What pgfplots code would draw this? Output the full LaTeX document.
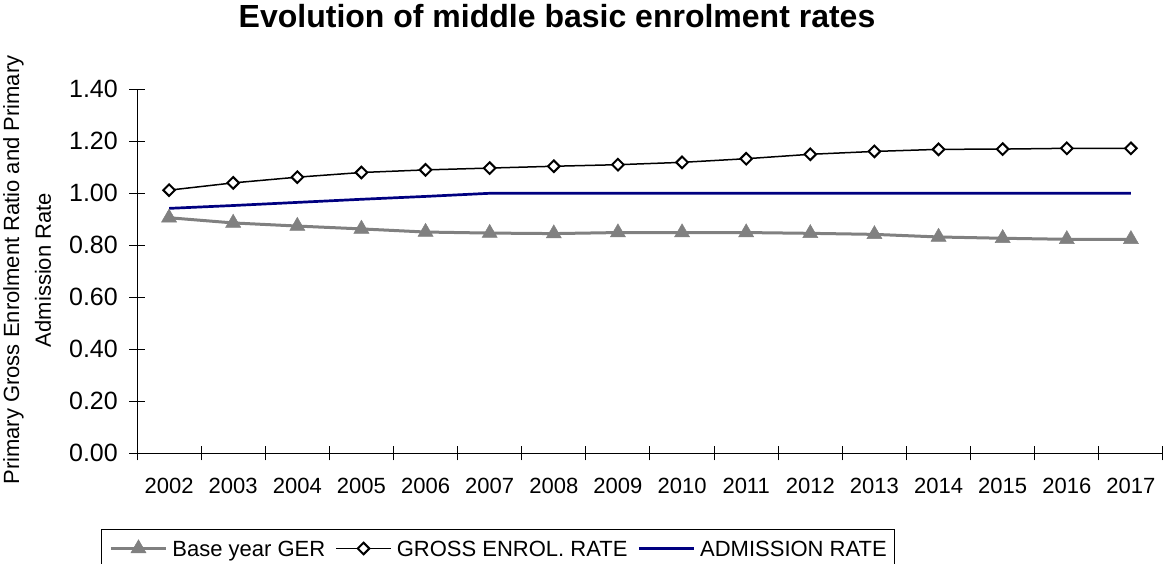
\documentclass[border=0pt]{standalone}
\usepackage{pgfplots}
\pgfplotsset{compat=1.18}
\usepackage{fontspec}
\setmainfont{Liberation Sans}

\definecolor{gerGray}{RGB}{128,128,128}
\definecolor{admNavy}{RGB}{0,0,128}
\newcommand{\lbl}{\fontsize{22}{26}\selectfont}
\newcommand{\ylbl}{\fontsize{25}{30}\selectfont}

% year index: 0 = 2002 ... 15 = 2017
\pgfplotstableread{
idx base gross adm
0  0.906 1.012 0.942
1  0.886 1.040 0.953
2  0.874 1.062 0.965
3  0.863 1.080 0.977
4  0.851 1.090 0.988
5  0.847 1.097 1.000
6  0.845 1.104 1.000
7  0.849 1.110 1.000
8  0.849 1.119 1.000
9  0.849 1.133 1.000
10 0.846 1.150 1.000
11 0.842 1.161 1.000
12 0.832 1.169 1.000
13 0.827 1.170 1.000
14 0.823 1.173 1.000
15 0.823 1.173 1.000
}\rates

\begin{document}
\begin{tikzpicture}[x=1pt,y=1pt]
\useasboundingbox (0,0) rectangle (1167,564);

\node[anchor=base, font=\fontsize{32}{38}\selectfont\bfseries]
  at (557,536) {Evolution of middle basic enrolment rates};

\begin{scope}
  \clip (0,0) rectangle (120,509);
  \node[rotate=90, inner sep=0pt, text height=15.8pt, text depth=0pt, font=\lbl]
    at (11.2,294) {Primary Gross Enrolment Ratio and Primary};
  \node[rotate=90, inner sep=0pt, text height=15.8pt, text depth=0pt, font=\lbl]
    at (43,294) {Admission Rate};
\end{scope}

\begin{axis}[
  at={(137pt,110.7pt)}, anchor=south west,
  scale only axis, width=1026pt, height=364pt,
  xmin=-0.5, xmax=15.5, ymin=0, ymax=1.4,
  axis x line*=bottom, axis y line*=left,
  axis line style={-, black, line width=1pt},
  x axis line style={-}, y axis line style={-},
  tick align=center,
  major tick length=16pt, minor tick length=14pt,
  xtick={0,...,15},
  xticklabels={2002,2003,2004,2005,2006,2007,2008,2009,2010,2011,2012,2013,2014,2015,2016,2017},
  minor xtick={-0.5,0.5,...,15.5},
  every major x tick/.append style={draw=none},
  every minor x tick/.append style={black, line width=1pt},
  every major y tick/.append style={black, line width=1pt},
  ytick={0,0.2,0.4,0.6,0.8,1.0,1.2,1.4},
  yticklabel style={font=\ylbl, inner sep=0pt, xshift=-11pt,
    /pgf/number format/.cd, fixed, fixed zerofill, precision=2, assume math mode=true},
  xticklabel style={font=\lbl, inner sep=0pt, yshift=-17pt},
  clip=false,
  legend columns=3,
  legend style={at={(-0.0351,-0.2088)}, anchor=north west,
    draw=black, line width=1pt, inner xsep=8pt, inner ysep=10pt, font=\lbl,
    nodes={inner sep=0pt, text height=15.8pt, text depth=0pt},
    /tikz/every odd column/.append style={column sep=5pt},
    /tikz/every even column/.append style={column sep=10pt}},
  legend image code/.code={
    \draw[mark repeat=2, mark phase=2, #1]
      plot coordinates {(0pt,0pt) (27.5pt,0pt) (55pt,0pt)};},
]
\addplot[gerGray, line width=3pt, mark=triangle*, mark size=8.7pt,
  mark options={solid, fill=gerGray, draw=gerGray, line width=0.5pt}]
  table[x=idx, y=base] {\rates};
\addlegendentry{Base year GER}

\addplot[black, line width=1.5pt, mark=square*, mark size=4.1pt,
  mark options={solid, rotate=45, fill=white, draw=black, line width=2pt}]
  table[x=idx, y=gross] {\rates};
\addlegendentry{GROSS ENROL. RATE}

\addplot[admNavy, line width=2.7pt]
  table[x=idx, y=adm] {\rates};
\addlegendentry{ADMISSION RATE}
\end{axis}
\end{tikzpicture}
\end{document}
